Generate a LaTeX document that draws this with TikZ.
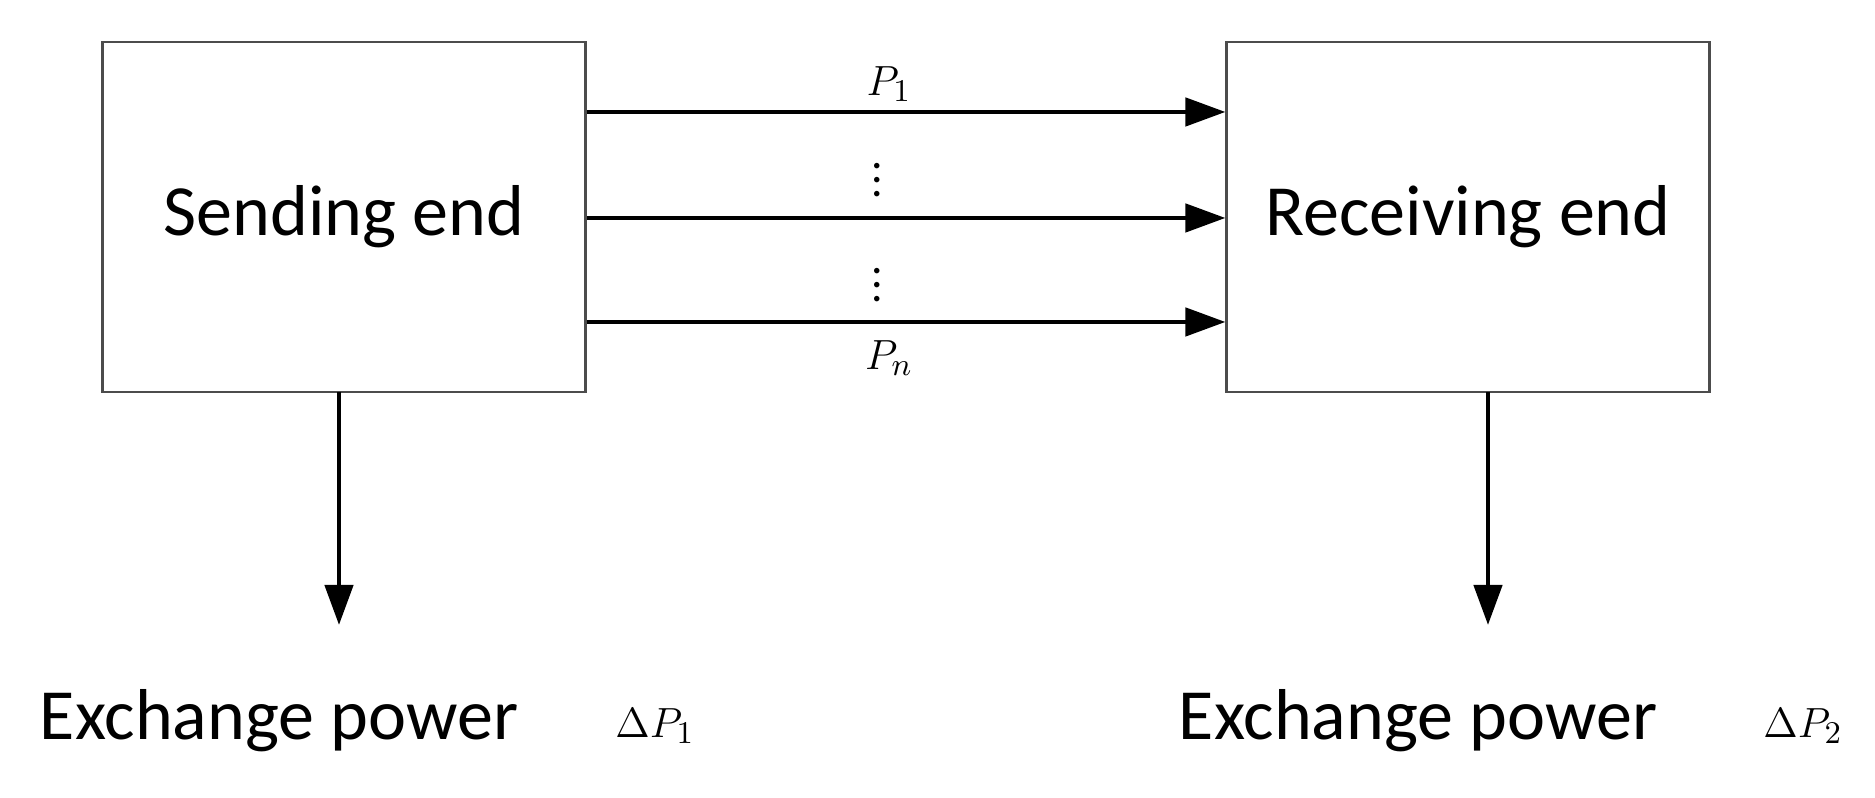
\documentclass[tikz,border=0pt]{standalone}
\usepackage{fontspec}
\setmainfont{Carlito}
\usetikzlibrary{arrows.meta,positioning}
\tikzset{
    block/.style={draw=black!70,line width=0.6pt,minimum width=4.83cm,minimum height=3.5cm,font=\fontsize{20.5}{24}\selectfont},
    flow/.style={-{Triangle[length=4mm,width=2.8mm]}, line width=1.3pt},
    big text/.style={font=\fontsize{20.5}{24}\selectfont},
    math label/.style={font=\fontsize{13}{15}\selectfont,inner sep=0pt}
  }
\begin{document}
\begin{tikzpicture}
    \useasboundingbox (0,0) rectangle (18.75,7.98);
    \node[block] (send) at (3.44,5.81) {Sending end};
    \node[block] (recv) at (14.68,5.81) {Receiving end};

    % parallel lines
    \foreach \name/\y in {one/6.86, mid/5.80, last/4.76} {
        \coordinate (s\name) at (send.east |- 0,\y);
        \coordinate (r\name) at (recv.west |- 0,\y);
        \draw[flow] (s\name) -- (r\name);
    }
    \node[math label] (p1) at (8.89,7.14) {$P_1$};
    \node[math label] (pn) at (8.89,4.40) {$P_n$};
    \node[math label] (dots1) at (8.77,6.28) {$\vdots$};
    \node[math label] (dots2) at (8.77,5.23) {$\vdots$};

    % exchange power
    \coordinate (sdown) at (3.39,4.06);
    \coordinate (send1) at (3.39,1.73);
    \coordinate (rdown) at (14.88,4.06);
    \coordinate (rend1) at (14.88,1.73);
    \draw[flow] (sdown) -- (send1);
    \draw[flow] (rdown) -- (rend1);

    \node[big text] (ex1) at (2.79,0.77) {Exchange power};
    \node[big text] (ex2) at (14.18,0.77) {Exchange power};
    \node[math label] (dp1) at (6.55,0.72) {$\Delta P_1$};
    \node[math label] (dp2) at (18.03,0.72) {$\Delta P_2$};
\end{tikzpicture}
\end{document}
